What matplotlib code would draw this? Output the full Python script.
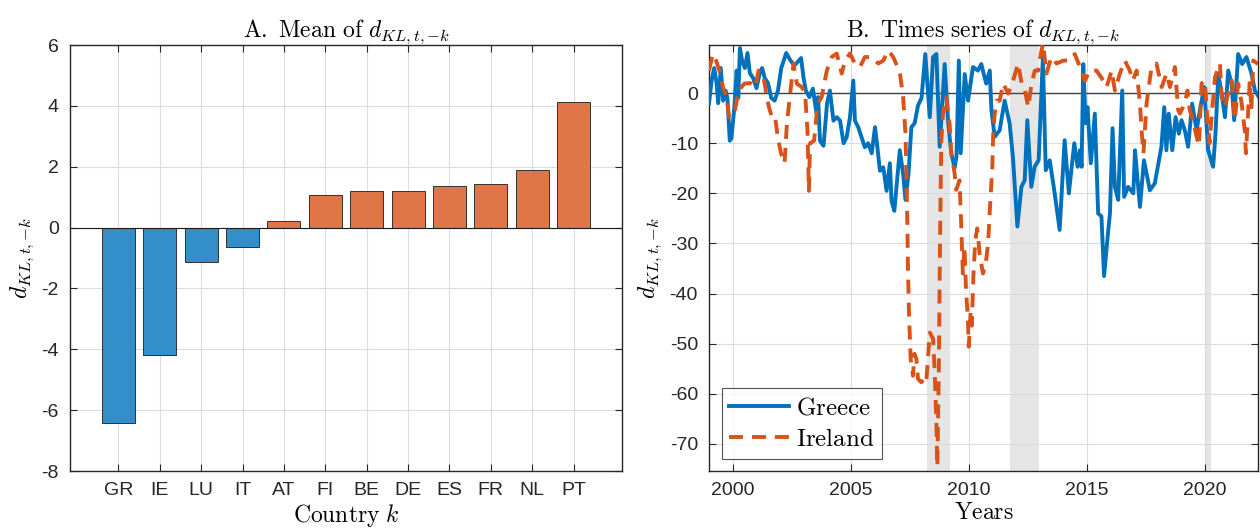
import numpy as np
import matplotlib
matplotlib.use("Agg")
import matplotlib.pyplot as plt

# ---------------- data ----------------
countries = ["GR", "IE", "LU", "IT", "AT", "FI", "BE", "DE", "ES", "FR", "NL", "PT"]
mean_dkl = [-6.43, -4.19, -1.13, -0.64, 0.21, 1.07, 1.21, 1.21, 1.38, 1.44, 1.88, 4.12]

greece_t = [1999.00, 1999.11, 1999.22, 1999.32, 1999.39, 1999.50, 1999.60, 1999.70, 1999.78, 1999.88,
            1999.95, 2000.07, 2000.17, 2000.24, 2000.31, 2000.40, 2000.52, 2000.63, 2000.73, 2000.87,
            2001.01, 2001.15, 2001.25, 2001.36, 2001.50, 2001.64, 2001.78, 2001.92, 2002.06, 2002.27,
            2002.45, 2002.62, 2002.90, 2003.00, 2003.10, 2003.25, 2003.40, 2003.55, 2003.62, 2003.70,
            2003.85, 2004.00, 2004.12, 2004.27, 2004.41, 2004.55, 2004.70, 2004.83, 2004.97, 2005.11,
            2005.18, 2005.32, 2005.46, 2005.60, 2005.74, 2005.89, 2006.03, 2006.10, 2006.24, 2006.38,
            2006.52, 2006.66, 2006.73, 2006.85, 2007.08, 2007.22, 2007.32, 2007.45, 2007.57, 2007.71,
            2007.85, 2008.00, 2008.16, 2008.35, 2008.49, 2008.63, 2008.77, 2008.98, 2009.12, 2009.26,
            2009.40, 2009.48, 2009.58, 2009.66, 2009.83, 2009.97, 2010.18, 2010.39, 2010.53, 2010.74,
            2010.89, 2010.96, 2011.10, 2011.31, 2011.52, 2011.73, 2011.87, 2012.06, 2012.23, 2012.37,
            2012.48, 2012.65, 2012.79, 2012.96, 2013.14, 2013.26, 2013.43, 2013.64, 2013.85, 2014.06,
            2014.24, 2014.47, 2014.61, 2014.71, 2014.78, 2014.85, 2014.95, 2015.03, 2015.17, 2015.34,
            2015.48, 2015.62, 2015.73, 2015.91, 2015.98, 2016.09, 2016.19, 2016.33, 2016.50, 2016.58,
            2016.75, 2016.97, 2017.04, 2017.25, 2017.42, 2017.67, 2017.88, 2018.16, 2018.28, 2018.37,
            2018.47, 2018.62, 2018.76, 2018.90, 2019.01, 2019.15, 2019.29, 2019.46, 2019.65, 2019.79,
            2019.97, 2020.14, 2020.35, 2020.45, 2020.57, 2020.71, 2020.85, 2020.99, 2021.13, 2021.24,
            2021.41, 2021.58, 2021.76, 2021.98, 2022.12, 2022.29]
greece_v = [-2.1, 2.5, 5.0, 2.0, -2.0, 5.0, -1.5, 0.5, -1.0, -9.5,
            -9.0, -3.0, 4.5, -1.0, 9.0, 6.5, 5.0, 8.0, 4.0, 3.0,
            1.0, 4.0, 5.0, 3.0, 2.0, -1.0, -1.5, 0.5, 5.0, 8.0,
            6.5, 5.5, 7.0, 3.2, 0.5, -0.8, 0.9, -4.0, -0.8, -9.5,
            -10.5, -2.0, 0.5, -5.5, -4.8, -5.5, -10.0, -8.8, -4.8, 2.5,
            -5.5, -6.8, -8.8, -10.8, -10.0, -12.0, -6.8, -9.5, -15.5, -14.8,
            -19.5, -14.0, -21.5, -23.5, -11.4, -16.0, -21.3, -16.0, -6.8, -6.0,
            -2.5, -1.0, 7.8, -4.8, 7.2, 7.8, -10.7, 5.8, -5.4, -12.0,
            -15.0, -12.7, 6.5, -12.0, 3.8, -1.5, 5.2, 4.5, 5.8, 1.9,
            4.5, -3.4, -8.7, -7.4, -1.5, -6.0, -12.7, -26.6, -18.7, -17.4,
            -5.4, -18.7, -14.7, -13.4, 7.2, -15.4, -13.4, -20.0, -27.3, -9.4,
            -20.0, -10.0, -14.7, -11.4, -14.7, 5.8, -6.0, -2.8, -14.0, -4.1,
            -24.0, -24.6, -36.5, -27.3, -24.0, -7.0, -18.7, -21.3, 0.5, -20.7,
            -18.7, -20.0, -11.4, -22.7, -13.4, -19.4, -18.0, -10.7, -2.8, -11.4,
            -4.1, -11.4, -4.8, -8.1, -5.4, -7.4, -10.7, -2.1, -7.4, -3.4,
            1.2, -11.4, -14.7, -8.1, 3.8, -0.1, -4.8, 4.5, 1.9, -5.4,
            7.8, 5.8, 7.2, 3.8, 0.5, -0.8]

ireland_t = [1999.00, 1999.16, 1999.30, 1999.44, 1999.60, 1999.75, 1999.85, 1999.95, 2000.10, 2000.25,
             2000.50, 2000.75, 2000.96, 2001.10, 2001.30, 2001.45, 2001.55, 2001.68, 2001.80, 2001.92,
             2002.05, 2002.20, 2002.30, 2002.42, 2002.58, 2002.72, 2002.93, 2003.07, 2003.17, 2003.23,
             2003.28, 2003.45, 2003.60, 2003.77, 2003.99, 2004.20, 2004.41, 2004.62, 2004.76, 2004.97,
             2005.18, 2005.39, 2005.60, 2005.89, 2006.17, 2006.38, 2006.60, 2006.80, 2007.08, 2007.22,
             2007.32, 2007.36, 2007.40, 2007.43, 2007.47, 2007.54, 2007.64, 2007.70, 2007.78, 2007.85,
             2007.99, 2008.12, 2008.20, 2008.28, 2008.35, 2008.49, 2008.56, 2008.63, 2008.67, 2008.70,
             2008.74, 2008.77, 2008.81, 2008.84, 2008.91, 2009.05, 2009.19, 2009.26, 2009.40, 2009.47,
             2009.61, 2009.68, 2009.75, 2009.82, 2009.89, 2009.96, 2010.00, 2010.08, 2010.13, 2010.20,
             2010.28, 2010.36, 2010.46, 2010.60, 2010.72, 2010.82, 2010.92, 2011.00, 2011.04, 2011.10,
             2011.18, 2011.31, 2011.46, 2011.67, 2011.88, 2012.09, 2012.24, 2012.38, 2012.52, 2012.66,
             2012.80, 2012.94, 2013.08, 2013.15, 2013.29, 2013.50, 2013.72, 2014.00, 2014.28, 2014.49,
             2014.71, 2014.92, 2015.13, 2015.41, 2015.70, 2015.84, 2016.05, 2016.19, 2016.40, 2016.61,
             2016.82, 2016.95, 2017.11, 2017.25, 2017.32, 2017.40, 2017.53, 2017.74, 2017.95, 2018.17,
             2018.38, 2018.52, 2018.73, 2018.87, 2018.94, 2019.15, 2019.26, 2019.36, 2019.50, 2019.65,
             2019.75, 2019.86, 2020.00, 2020.10, 2020.20, 2020.30, 2020.43, 2020.64, 2020.71, 2020.85,
             2020.95, 2021.06, 2021.14, 2021.27, 2021.41, 2021.56, 2021.69, 2021.74, 2021.90, 2021.97,
             2022.05, 2022.25]
ireland_v = [4.5, 7.8, 6.5, 4.5, 1.0, -0.8, -4.8, -4.1, -3.5, 0.5,
             1.9, 2.0, 1.2, 4.5, 3.5, -0.8, -3.0, -5.0, -4.8, -9.0,
             -12.0, -14.0, -6.0, -0.8, 5.9, 1.9, 1.2, -0.1, -7.5, -19.5,
             -10.0, -9.5, -2.1, -0.8, 4.5, 7.2, 7.9, 3.9, 6.5, 7.9,
             5.9, 5.2, 7.2, 7.2, 5.9, 6.5, 8.5, 7.2, 4.2, -0.8,
             -8.0, -16.0, -26.0, -36.0, -44.0, -53.0, -56.4, -52.0, -53.0, -57.0,
             -57.7, -57.0, -57.7, -52.5, -47.8, -49.0, -55.8, -65.7, -74.5, -65.7,
             -52.5, -36.0, -19.3, -9.4, -4.1, -0.8, -6.1, -12.0, -16.0, -19.3,
             -17.4, -26.0, -36.0, -30.6, -40.0, -44.5, -50.6, -43.8, -46.4, -36.0,
             -29.3, -27.0, -32.0, -36.0, -34.0, -30.0, -21.0, -14.7, -7.5, -4.1,
             -1.5, -1.5, 1.9, -0.1, 2.5, 5.9, 1.9, 0.5, -2.8, 1.9,
             4.5, 4.5, 8.5, 9.9, 3.9, 7.2, 5.9, 6.5, 6.5, 7.8,
             5.2, 2.5, 4.5, 4.5, 2.5, 1.2, 4.5, 0.5, 3.9, 6.5,
             4.5, 2.5, 4.5, -2.1, -7.5, -12.0, -2.1, 5.2, 5.9, 1.2,
             3.9, 1.2, 5.2, -3.4, -4.1, -2.1, 0.5, -3.4, -5.5, -8.7,
             -10.5, 1.9, 2.5, -5.0, -10.0, -4.0, 3.2, 5.9, -0.8, -2.8,
             -0.8, 1.2, 2.5, -5.4, 1.9, -2.1, -7.5, -12.0, 2.5, -3.4,
             6.5, 5.8]

recession_start = [2008.22, 2011.74, 2020.00]
recession_end = [2009.19, 2012.97, 2020.25]

# ---------------- style ----------------
plt.rcParams["font.family"] = ["Liberation Sans", "DejaVu Sans"]
plt.rcParams["mathtext.fontset"] = "cm"
plt.rcParams["axes.unicode_minus"] = False

BLUE = "#0072BD"
ORANGE = "#D95319"
BLUE_BAR = "#338ECA"
ORANGE_BAR = "#E07547"
AXC = "#262626"
DKL = r"d_{KL,t,{-}k}"

fig = plt.figure(figsize=(12.6, 5.31), dpi=100)
axA = fig.add_axes([70 / 1260, 60 / 531, 552 / 1260, 426 / 531])
axB = fig.add_axes([709 / 1260, 60 / 531, 549 / 1260, 426 / 531])


def style(ax):
    for s in ax.spines.values():
        s.set_color(AXC)
        s.set_linewidth(1.0)
    ax.tick_params(direction="in", length=5, width=0.8, top=True, right=True,
                   labelsize=14, colors=AXC, pad=8)
    ax.grid(True, color="#dcdcdc", linewidth=0.8)
    ax.set_axisbelow(True)


# ---------------- panel A ----------------
style(axA)
xpos = np.arange(1, len(countries) + 1)
cols = [BLUE_BAR if v < 0 else ORANGE_BAR for v in mean_dkl]
axA.bar(xpos, mean_dkl, width=0.8, color=cols, edgecolor="#1a1a1a", linewidth=0.6, zorder=3)
axA.axhline(0, color="#1a1a1a", linewidth=0.8, zorder=4)
axA.set_xlim(-0.17, 13.17)
axA.set_ylim(-8, 6)
axA.set_xticks(xpos)
axA.set_xticklabels(countries)
axA.set_yticks(np.arange(-8, 7, 2))
axA.set_title(r"$\mathrm{A.\ Mean\ of\ }" + DKL + "$", fontsize=17, pad=6)
axA.set_xlabel(r"$\mathrm{Country}\ k$", fontsize=17, labelpad=2)
axA.set_ylabel("$" + DKL + "$", fontsize=17, labelpad=4)

# ---------------- panel B ----------------
style(axB)
for a, b in zip(recession_start, recession_end):
    axB.axvspan(a, b, color="#e5e5e5", linewidth=0, zorder=0)
axB.axhline(0, color="#404040", linewidth=1.0, zorder=2)
axB.plot(greece_t, greece_v, color=BLUE, linewidth=2.8, label=r"$\mathrm{Greece}$", zorder=3)
axB.plot(ireland_t, ireland_v, color=ORANGE, linewidth=2.8, linestyle=(0, (3.6, 2.3)),
         label=r"$\mathrm{Ireland}$", zorder=4)
axB.set_xlim(1999.0, 2022.25)
axB.set_ylim(-75.4, 9.6)
axB.set_xticks([2000, 2005, 2010, 2015, 2020])
axB.set_yticks(np.arange(-70, 1, 10))
axB.set_title(r"$\mathrm{B.\ Times\ series\ of\ }" + DKL + "$", fontsize=17, pad=6)
axB.set_xlabel(r"$\mathrm{Years}$", fontsize=17, labelpad=2)
axB.set_ylabel("$" + DKL + "$", fontsize=17, labelpad=4)
leg = axB.legend(loc="lower left", fontsize=18, frameon=True, fancybox=False,
                 borderpad=0.3, handlelength=2.4, handletextpad=0.3, labelspacing=0.3,
                 borderaxespad=0.5)
leg.get_frame().set_edgecolor(AXC)
leg.get_frame().set_linewidth(0.8)

fig.savefig("out.png", dpi=100)
